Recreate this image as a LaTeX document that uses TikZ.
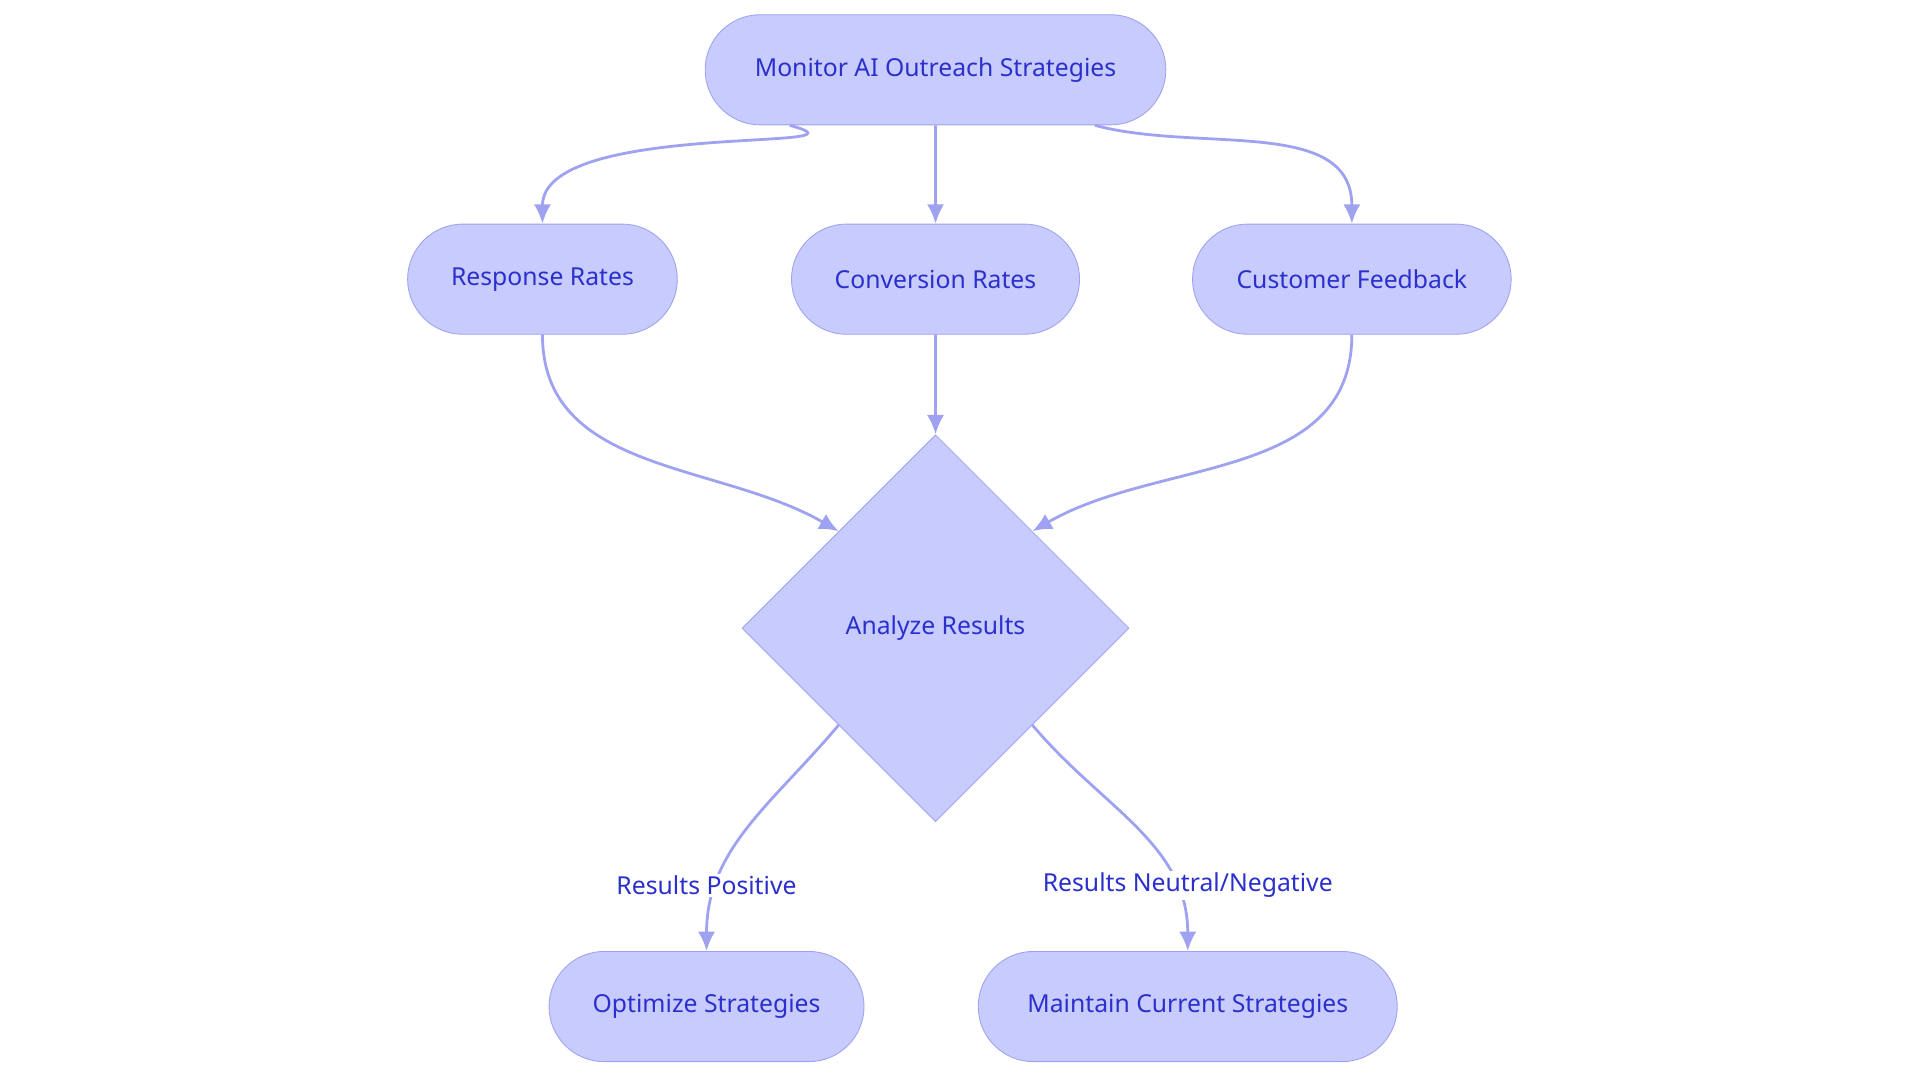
\documentclass[tikz,border=0pt]{standalone}
\usepackage{fontspec}
\setmainfont{Noto Sans}
\usetikzlibrary{shapes.geometric,shapes.misc,arrows.meta}
\definecolor{boxfill}{HTML}{C8CBFE}
\definecolor{boxline}{HTML}{9EA2F0}
\definecolor{boxtext}{HTML}{2B30CC}
\begin{document}
\begin{tikzpicture}[
        x=0.02cm, y=-0.02cm,
        pill/.style={rounded rectangle, draw=boxline, fill=boxfill, minimum height=1.8cm, text=boxtext, font=\fontsize{11.5}{13}\selectfont},
        decide/.style={diamond, draw=boxline, fill=boxfill, minimum size=6.32cm, inner sep=0pt, text=boxtext, font=\fontsize{11.5}{13}\selectfont},
        arr/.style={draw=boxline, line width=1.3pt, -{Latex[length=9pt,width=8pt]}},
        edgelabel/.style={fill=white, text=boxtext, inner sep=1pt, font=\fontsize{11.5}{13}\selectfont}
    ]
        \useasboundingbox (0,0) rectangle (1568,884);
        % Nodes
        \node[pill, minimum width=7.76cm] (mon) at (764,57) {Monitor AI Outreach Strategies};
        \node[pill, minimum width=4.64cm] (resp) at (443,228) {Response Rates};
        \node[pill, minimum width=4.94cm] (conv) at (764,228) {Conversion Rates};
        \node[pill, minimum width=5.44cm] (cust) at (1104,228) {Customer Feedback};
        \node[decide] (ana) at (764,513) {Analyze Results};
        \node[pill, minimum width=5.38cm] (opt) at (577,822) {Optimize Strategies};
        \node[pill, minimum width=7.08cm] (keep) at (970,822) {Maintain Current Strategies};

        % Edges
        \draw[arr] ([xshift=0.48cm]mon.south west) to[out=-15,in=90] (resp.north);
        \draw[arr] (mon) -- (conv);
        \draw[arr] ([xshift=-0.26cm]mon.south east) to[out=-15,in=90] (cust.north);
        \draw[arr] (resp.south) to[out=-90,in=150] (ana.north west);
        \draw[arr] (conv) -- (ana);
        \draw[arr] (cust.south) to[out=-90,in=30] (ana.north east);
        \draw[arr] (ana.south west) to[out=-130,in=90] (opt.north);
        \draw[arr] (ana.south east) to[out=-50,in=90] (keep.north);

        % Labels
        \node[edgelabel] (lpos) at (577,723) {Results Positive};
        \node[edgelabel] (lneg) at (970,723) {Results Neutral/Negative};
    \end{tikzpicture}
\end{document}
